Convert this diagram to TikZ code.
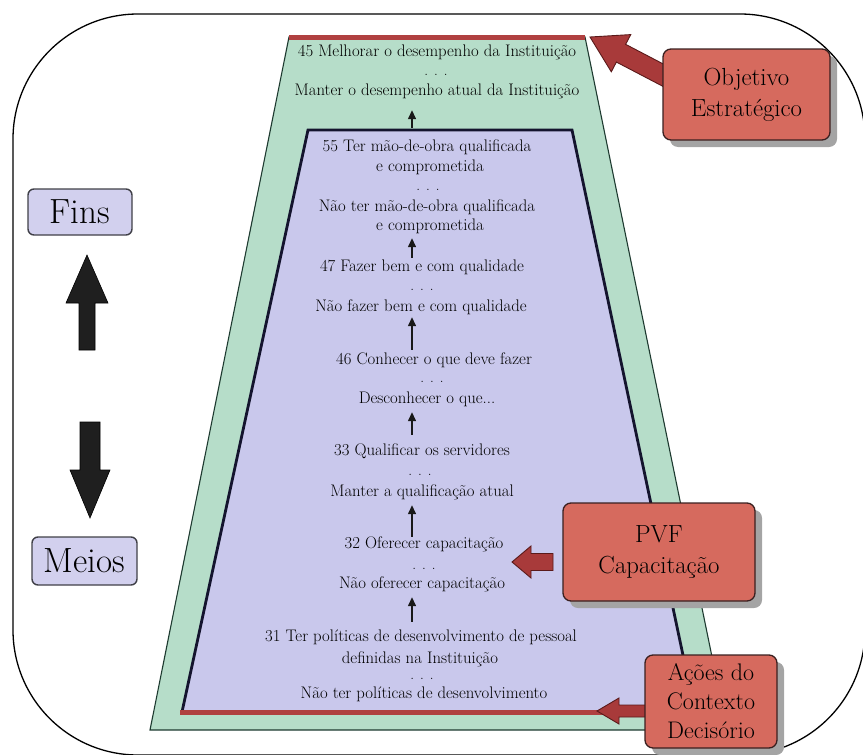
\documentclass[tikz,border=0pt]{standalone}
\usepackage{fontspec}
\usetikzlibrary{calc,arrows.meta}

\definecolor{mint}{HTML}{B6DDC9}
\definecolor{mintline}{HTML}{1E3A30}
\definecolor{lav}{HTML}{C9C8EC}
\definecolor{lavline}{HTML}{14142E}
\definecolor{redline}{HTML}{B04040}
\definecolor{boxred}{HTML}{D66A5E}
\definecolor{boxline}{HTML}{3A2020}
\definecolor{arrowred}{HTML}{A83A3A}
\definecolor{arrowdark}{HTML}{5A1A1A}
\definecolor{shadowgray}{HTML}{A4A4A4}
\definecolor{tagline}{HTML}{404048}
\definecolor{taglav}{HTML}{D2D0EE}

\tikzset{
  txt/.style={font=\rmfamily\fontsize{16.75}{19}\selectfont, inner sep=0pt,
    text height=11pt, text depth=3.5pt},
  dotrow/.style={font=\rmfamily\fontsize{15}{15}\selectfont, inner sep=0pt,
    text height=2pt, text depth=0pt},
  chainarrow/.style={line width=1.4pt, draw=black!90, -{Triangle[length=9pt,width=8pt]}},
  boxshadow/.style={fill=shadowgray, rounded corners=8pt},
  redbox/.style={draw=boxline, line width=1.3pt, fill=boxred, rounded corners=8pt,
    font=\rmfamily\fontsize{24.75}{31}\selectfont, align=center, inner sep=0pt},
  tagbox/.style={draw=tagline, line width=1.4pt, fill=taglav, rounded corners=6pt,
    font=\rmfamily\fontsize{35}{35}\selectfont, inner sep=0pt},
  % block arrow: body half-width / head half-width / head length
  blockarrow/.style args={#1/#2/#3}{to path={
    ($(\tikztostart)!#1!90:(\tikztotarget)$)
    -- ($(\tikztotarget)!#3!(\tikztostart)!#1!-90:(\tikztostart)$)
    -- ($(\tikztotarget)!#3!(\tikztostart)!#2!-90:(\tikztostart)$)
    -- (\tikztotarget)
    -- ($(\tikztotarget)!#3!(\tikztostart)!#2!90:(\tikztostart)$)
    -- ($(\tikztotarget)!#3!(\tikztostart)!#1!90:(\tikztostart)$)
    -- ($(\tikztostart)!#1!-90:(\tikztotarget)$) -- cycle}},
  redarrow/.style={fill=arrowred, draw=arrowdark, line width=0.9pt, line join=miter},
  blackarrow/.style={fill=black!88, draw=black, line width=0.6pt, line join=miter},
}

\begin{document}
\begin{tikzpicture}[x=1pt,y=-1pt]
  \useasboundingbox (0,0) rectangle (863,755);

  % outer frame
  \draw[line width=1.3pt, rounded corners=125pt] (13,14) rectangle (865,755);
  % outer (green) trapezoid
  \draw[fill=mint, draw=mintline, line width=1.1pt]
    (289,37) -- (585,37) -- (727,730) -- (150,730) -- cycle;
  \draw[redline, line width=5pt] (289,37) -- (585,37);
  % inner (lavender) trapezoid
  \fill[lav] (308,130) -- (572,130) -- (695,712) -- (182,712) -- cycle;
  \draw[lavline, line width=2.8pt, line join=miter]
    (182,712) -- (308,130) -- (572,130) -- (695,712);
  \draw[redline, line width=5pt] (180,712) -- (695,712);

  % chain of statements
  \node[txt] (t45a) at (437,53) {45 Melhorar o desempenho da Instituição};
  \node[dotrow] (d1) at (436,74) {. . .};
  \node[txt] (t45b) at (437,92) {Manter o desempenho atual da Instituição};

  \node[txt] (t55a) at (427,148) {55 Ter mão-de-obra qualificada};
  \node[txt] (t55b) at (430,168) {e comprometida};
  \node[dotrow] (d2) at (428,189) {. . .};
  \node[txt] (t55c) at (427,208) {Não ter mão-de-obra qualificada};
  \node[txt] (t55d) at (430,227) {e comprometida};

  \node[txt] (t47a) at (422,268) {47 Fazer bem e com qualidade};
  \node[dotrow] (d3) at (422,289) {. . .};
  \node[txt] (t47b) at (421,308) {Não fazer bem e com qualidade};

  \node[txt] (t46a) at (434,361) {46 Conhecer o que deve fazer};
  \node[dotrow] (d4) at (432,381) {. . .};
  \node[txt] (t46b) at (427,400) {Desconhecer o que...};

  \node[txt] (t33a) at (422,452) {33 Qualificar os servidores};
  \node[dotrow] (d5) at (420,474) {. . .};
  \node[txt] (t33b) at (422,493) {Manter a qualificação atual};

  \node[txt] (t32a) at (424,545) {32 Oferecer capacitação};
  \node[dotrow] (d6) at (424,568) {. . .};
  \node[txt] (t32b) at (422,585) {Não oferecer capacitação};

  \node[txt] (t31a) at (421,638) {31 Ter políticas de desenvolvimento de pessoal};
  \node[txt] (t31b) at (420,660) {definidas na Instituição};
  \node[dotrow] (d7) at (422,678) {. . .};
  \node[txt] (t31c) at (424,695) {Não ter políticas de desenvolvimento};

  % arrows between the statements
  \coordinate (ax) at (412,0);
  \draw[chainarrow, shorten <=12.75pt, shorten >=10.75pt] (t55a.north -| ax) -- (t45b.south -| ax);
  \draw[chainarrow, shorten <=2.75pt, shorten >=3.75pt] (t47a.north -| ax) -- (t55d.south -| ax);
  \draw[chainarrow, shorten <=3.75pt, shorten >=1.75pt] (t46a.north -| ax) -- (t47b.south -| ax);
  \draw[chainarrow, shorten <=9.75pt, shorten >=4.75pt] (t33a.north -| ax) -- (t46b.south -| ax);
  \draw[chainarrow, shorten <=0.75pt, shorten >=4.75pt] (t32a.north -| ax) -- (t33b.south -| ax);
  \draw[chainarrow, shorten <=8.75pt, shorten >=4.75pt] (t31a.north -| ax) -- (t32b.south -| ax);

  % block arrows (their tails run in under the boxes drawn afterwards)
  \coordinate (objtail) at (680,84);
  \coordinate (objtip) at (590,37);
  \coordinate (pvftail) at (553,562);
  \coordinate (pvftip) at (512,562);
  \coordinate (acoestail) at (655,711);
  \coordinate (acoestip) at (597,711);
  \coordinate (upbase) at (87,350);
  \coordinate (uptip) at (87,255);
  \coordinate (downbase) at (90,422);
  \coordinate (downtip) at (90,518);

  \draw[redarrow, blockarrow={10pt/21pt/35pt}] (objtail) to (objtip);
  \draw[redarrow, blockarrow={8.5pt/16pt/19pt}] (pvftail) to (pvftip);
  \draw[redarrow, blockarrow={6pt/13pt/22pt}] (acoestail) to (acoestip);
  \draw[blackarrow, blockarrow={8pt/21pt/48pt}] (upbase) to (uptip);
  \draw[blackarrow, blockarrow={10pt/20pt/48pt}] (downbase) to (downtip);

  % shadows of the decision context boxes
  \fill[boxshadow] (670,56) rectangle (837,147);
  \fill[boxshadow] (570,510) rectangle (762,608);
  \fill[boxshadow] (652,662) rectangle (784,755);

  % decision context boxes
  \node[redbox, minimum width=167pt, minimum height=91pt] (obj) at (746.5,94.5)
    {Objetivo\\Estratégico};
  \node[redbox, minimum width=192pt, minimum height=98pt] (pvf) at (659,552)
    {PVF\\Capacitação};
  \node[redbox, minimum width=132pt, minimum height=93pt,
    font=\rmfamily\fontsize{24}{29}\selectfont] (acoes) at (711,701.5)
    {Ações do\\Contexto\\Decisório};

  % ends / means labels
  \node[tagbox, minimum width=104pt, minimum height=46pt] (fins) at (80,212) {Fins};
  \node[tagbox, minimum width=105pt, minimum height=48pt] (meios) at (84.5,561) {Meios};
\end{tikzpicture}
\end{document}
